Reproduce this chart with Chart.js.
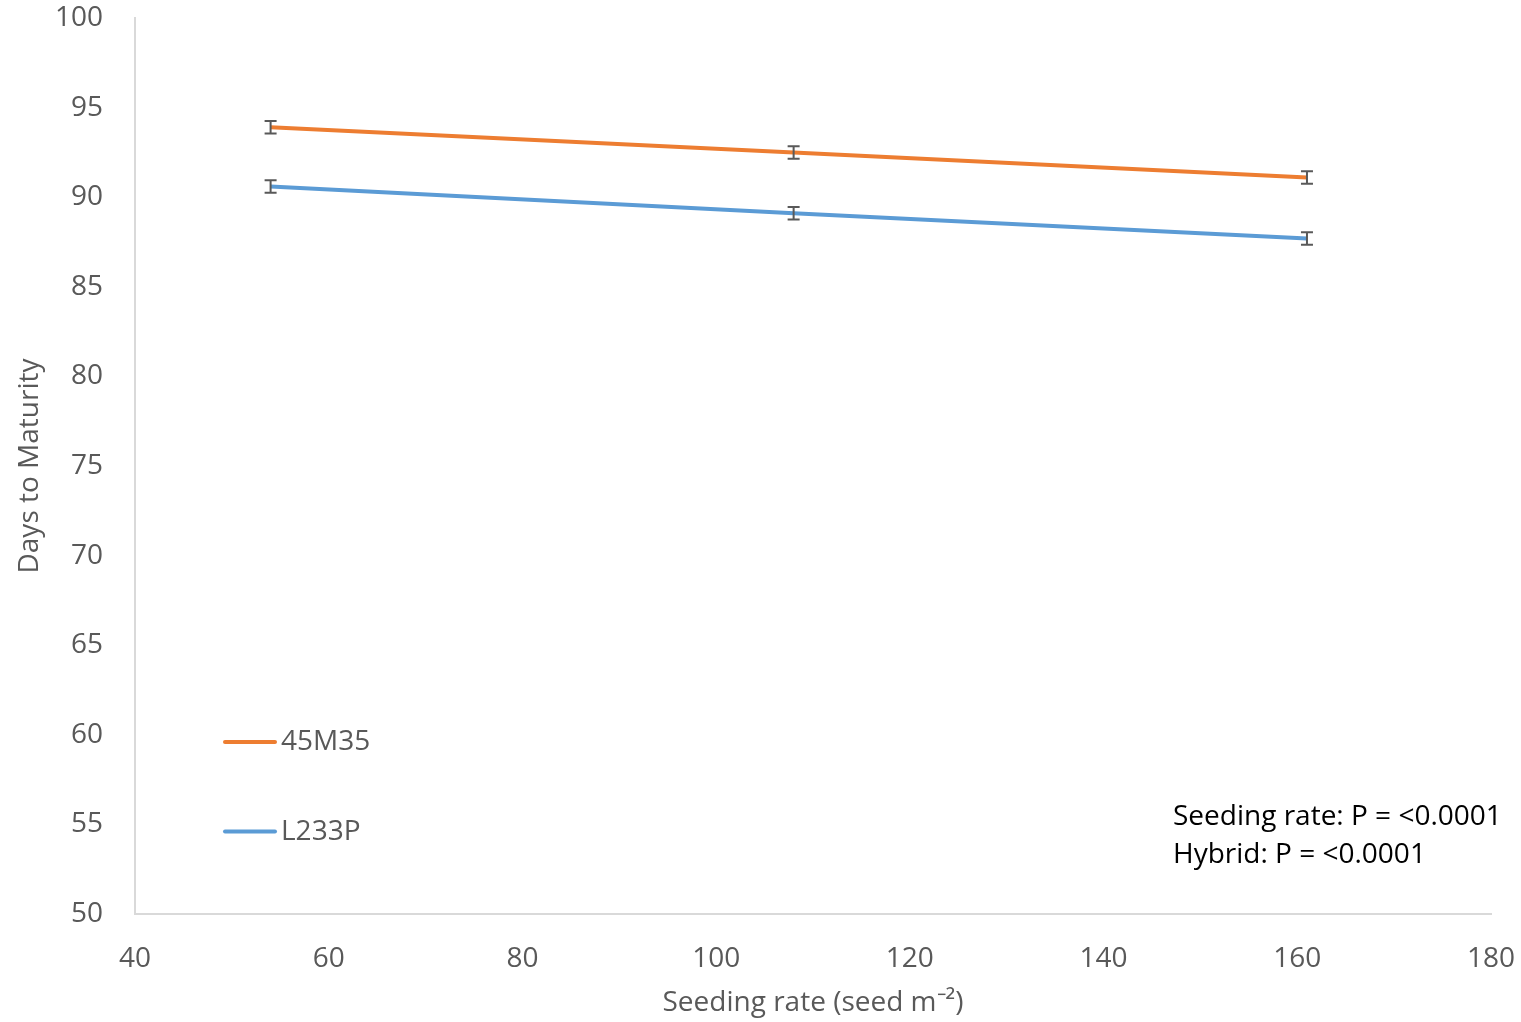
<!DOCTYPE html>
<html>
<head>
<meta charset="utf-8">
<script src="https://cdn.jsdelivr.net/npm/chart.js@4/dist/chart.umd.min.js"></script>
<style>
  html, body { margin: 0; padding: 0; background: #fff; }
  #wrap { width: 1521px; height: 1022px; }
</style>
</head>
<body>
<div id="wrap"><canvas id="maturity"></canvas></div>
<script>
// seeding rates (seed m-2)
var rates = [54, 108, 161];
// days to maturity per hybrid
var h45M35 = [93.9, 92.5, 91.1];
var hL233P = [90.6, 89.1, 87.7];
// standard errors
var err45M35 = [0.35, 0.35, 0.35];
var errL233P = [0.35, 0.35, 0.35];
var seriesNames = ["45M35", "L233P"];
var statsText = ["Seeding rate: P = <0.0001", "Hybrid: P = <0.0001"];

var grey = '#595959';
var fontFam = '"Open Sans", sans-serif';
var fs = 28;

function pts(xs, ys) {
    return xs.map(function (x, i) { return { x: x, y: ys[i] }; });
}

// error bars + legend + stats label
var extras = {
    id: 'extras',
    afterDatasetsDraw: function (chart) {
        var ctx = chart.ctx;
        var xs = chart.scales.x, ys = chart.scales.y;
        var errs = [err45M35, errL233P];
        ctx.save();
        ctx.strokeStyle = grey;
        ctx.lineWidth = 2;
        chart.data.datasets.forEach(function (ds, d) {
            ds.data.forEach(function (p, i) {
                var px = xs.getPixelForValue(p.x);
                var top = ys.getPixelForValue(p.y + errs[d][i]);
                var bot = ys.getPixelForValue(p.y - errs[d][i]);
                ctx.beginPath();
                ctx.moveTo(px, top); ctx.lineTo(px, bot);
                ctx.moveTo(px - 6, top); ctx.lineTo(px + 6, top);
                ctx.moveTo(px - 6, bot); ctx.lineTo(px + 6, bot);
                ctx.stroke();
            });
        });

        // legend inside the plot
        var legY = [ys.getPixelForValue(59.6), ys.getPixelForValue(54.6)];
        ctx.font = fs + 'px ' + fontFam;
        ctx.textBaseline = 'middle';
        ctx.textAlign = 'left';
        chart.data.datasets.forEach(function (ds, d) {
            ctx.strokeStyle = ds.borderColor;
            ctx.lineWidth = 4;
            ctx.lineCap = 'round';
            ctx.beginPath();
            ctx.moveTo(225, legY[d]); ctx.lineTo(275, legY[d]);
            ctx.stroke();
            ctx.fillStyle = grey;
            ctx.fillText(ds.label, 281, legY[d]);
        });

        ctx.fillStyle = '#000';
        ctx.fillText(statsText[0], 1173, 817);
        ctx.fillText(statsText[1], 1173, 855);
        ctx.restore();
    }
};

var canvas = document.getElementById('maturity');
var ctx = canvas.getContext('2d');

var chart = new Chart(ctx, {
    type: 'scatter',
    data: {
        datasets: [
            {
                label: seriesNames[0],
                data: pts(rates, h45M35),
                showLine: true,
                borderColor: '#ED7D31',
                borderWidth: 4,
                pointRadius: 0
            },
            {
                label: seriesNames[1],
                data: pts(rates, hL233P),
                showLine: true,
                borderColor: '#5B9BD5',
                borderWidth: 4,
                pointRadius: 0
            }
        ]
    },
    options: {
        responsive: true,
        maintainAspectRatio: false,
        animation: false,
        layout: { padding: { top: 18, right: 30, left: 0, bottom: 0 } },
        plugins: {
            legend: { display: false },
            tooltip: { enabled: false }
        },
        scales: {
            x: {
                type: 'linear',
                min: 40, max: 180,
                afterFit: function (s) { s.height = 108; s.paddingLeft = 0; s.paddingRight = 0; },
                grid: { display: false },
                border: { display: true, color: '#d9d9d9', width: 2 },
                ticks: { stepSize: 20, color: grey, padding: 20, font: { family: fontFam, size: fs } },
                title: {
                    display: true,
                    text: 'Seeding rate (seed m\u207B\u00B2)',
                    color: grey,
                    padding: { top: 0, bottom: 2 },
                    font: { family: fontFam, size: fs }
                }
            },
            y: {
                min: 50, max: 100,
                afterFit: function (s) { s.width = 135; s.paddingTop = 0; s.paddingBottom = 0; },
                grid: { display: false },
                border: { display: true, color: '#d9d9d9', width: 2 },
                ticks: { stepSize: 5, color: grey, padding: 24, font: { family: fontFam, size: fs } },
                title: {
                    display: true,
                    text: 'Days to Maturity',
                    color: grey,
                    padding: { top: 13, bottom: 0 },
                    font: { family: fontFam, size: fs }
                }
            }
        }
    },
    plugins: [extras]
});
</script>
</body>
</html>
